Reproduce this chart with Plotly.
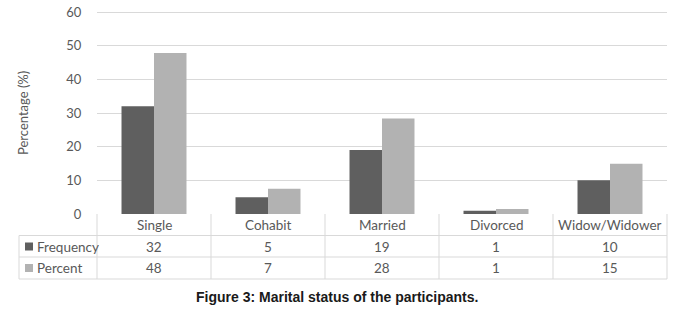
import plotly.graph_objects as go

categories = ["Single", "Cohabit", "Married", "Divorced", "Widow/Widower"]
frequency = [32, 5, 19, 1, 10]
percent = [47.8, 7.5, 28.4, 1.5, 14.9]
percent_labels = ["48", "7", "28", "1", "15"]
series_names = ["Frequency", "Percent"]
y_ticks = [0, 10, 20, 30, 40, 50, 60]

DARK = "#5f5f5f"
LIGHT = "#b2b2b2"
GRID = "#d9d9d9"
TXT = "#595959"
FONT = "Lato"
FS = 13.5

W, H = 680, 319
L, R, T, B = 97, 13, 11, 105
PW, PH = W - L - R, H - T - B


def py(pix):  # screen pixel y -> paper y
    return (H - B - pix) / PH


def px(pix):  # screen pixel x -> paper x
    return (pix - L) / PW


fig = go.Figure()
xs = list(range(len(categories)))
fig.add_trace(go.Bar(x=xs, y=frequency, name=series_names[0], marker=dict(color=DARK, line=dict(width=0))))
fig.add_trace(go.Bar(x=xs, y=percent, name=series_names[1], marker=dict(color=LIGHT, line=dict(width=0))))

shapes = []
ann = []
line = dict(color=GRID, width=1)
# horizontal table lines
for yy in [235.5, 257, 279]:
    shapes.append(dict(type="line", xref="paper", yref="paper", x0=px(19), x1=1, y0=py(yy), y1=py(yy), line=line))
# vertical column separators
for i in range(len(categories) + 1):
    xp = i / len(categories)
    shapes.append(dict(type="line", xref="paper", yref="paper", x0=xp, x1=xp, y0=py(214), y1=py(279), line=line))
shapes.append(dict(type="line", xref="paper", yref="paper", x0=px(19), x1=px(19), y0=py(235.5), y1=py(279), line=line))

# header labels and values
row_y = [py(225), py(246.5), py(268)]
for i, c in enumerate(categories):
    ann.append(dict(x=i, xref="x", y=row_y[0], yref="paper", text=c, showarrow=False,
                    font=dict(family=FONT, size=FS, color=TXT), yanchor="middle"))
    ann.append(dict(x=i, xref="x", y=row_y[1], yref="paper", text=str(frequency[i]), showarrow=False,
                    font=dict(family=FONT, size=FS, color=TXT), yanchor="middle"))
    ann.append(dict(x=i, xref="x", y=row_y[2], yref="paper", text=percent_labels[i], showarrow=False,
                    font=dict(family=FONT, size=FS, color=TXT), yanchor="middle"))

# legend keys in table
for k, (nm, col) in enumerate(zip(series_names, [DARK, LIGHT])):
    cy = [246.5, 268][k]
    shapes.append(dict(type="rect", xref="paper", yref="paper", x0=px(25), x1=px(33), y0=py(cy + 4), y1=py(cy - 4),
                       fillcolor=col, line=dict(width=0)))
    ann.append(dict(x=px(34.5), xref="paper", y=py(cy), yref="paper", text=nm, showarrow=False, xanchor="left",
                    yanchor="middle", font=dict(family=FONT, size=FS, color=TXT)))

# y-axis title
ann.append(dict(x=px(23), xref="paper", y=py(113), yref="paper", text="Percentage (%)", textangle=-90, showarrow=False,
                xanchor="center", yanchor="middle", font=dict(family=FONT, size=13, color=TXT)))
# caption
ann.append(dict(x=px(337), xref="paper", y=py(297), yref="paper", text="<b>Figure 3: Marital status of the participants.</b>",
                showarrow=False, xanchor="center", yanchor="middle",
                font=dict(family="Liberation Sans, Arial", size=14, color="#1a1a1a")))

fig.update_layout(
    width=W, height=H,
    margin=dict(l=L, r=R, t=T, b=B, pad=0, autoexpand=False),
    paper_bgcolor="white", plot_bgcolor="white",
    barmode="group", bargap=0.43, bargroupgap=0,
    showlegend=False,
    shapes=shapes, annotations=ann,
    xaxis=dict(range=[-0.5, len(categories) - 0.5], showticklabels=False, showgrid=False, zeroline=False,
               showline=False, fixedrange=True, automargin=False),
    yaxis=dict(range=[0, 60.3], tickvals=y_ticks, showgrid=True, gridcolor=GRID, gridwidth=1, zeroline=False,
               showline=False, ticks="outside", ticklen=12, tickcolor="rgba(0,0,0,0)", automargin=False,
               fixedrange=True, ticklabeloverflow="allow", tickfont=dict(family=FONT, size=13, color=TXT)),
)

fig.write_html("out.html", config={"displayModeBar": False, "staticPlot": True},
               post_script="document.body.style.margin='0';document.body.style.overflow='hidden';")
